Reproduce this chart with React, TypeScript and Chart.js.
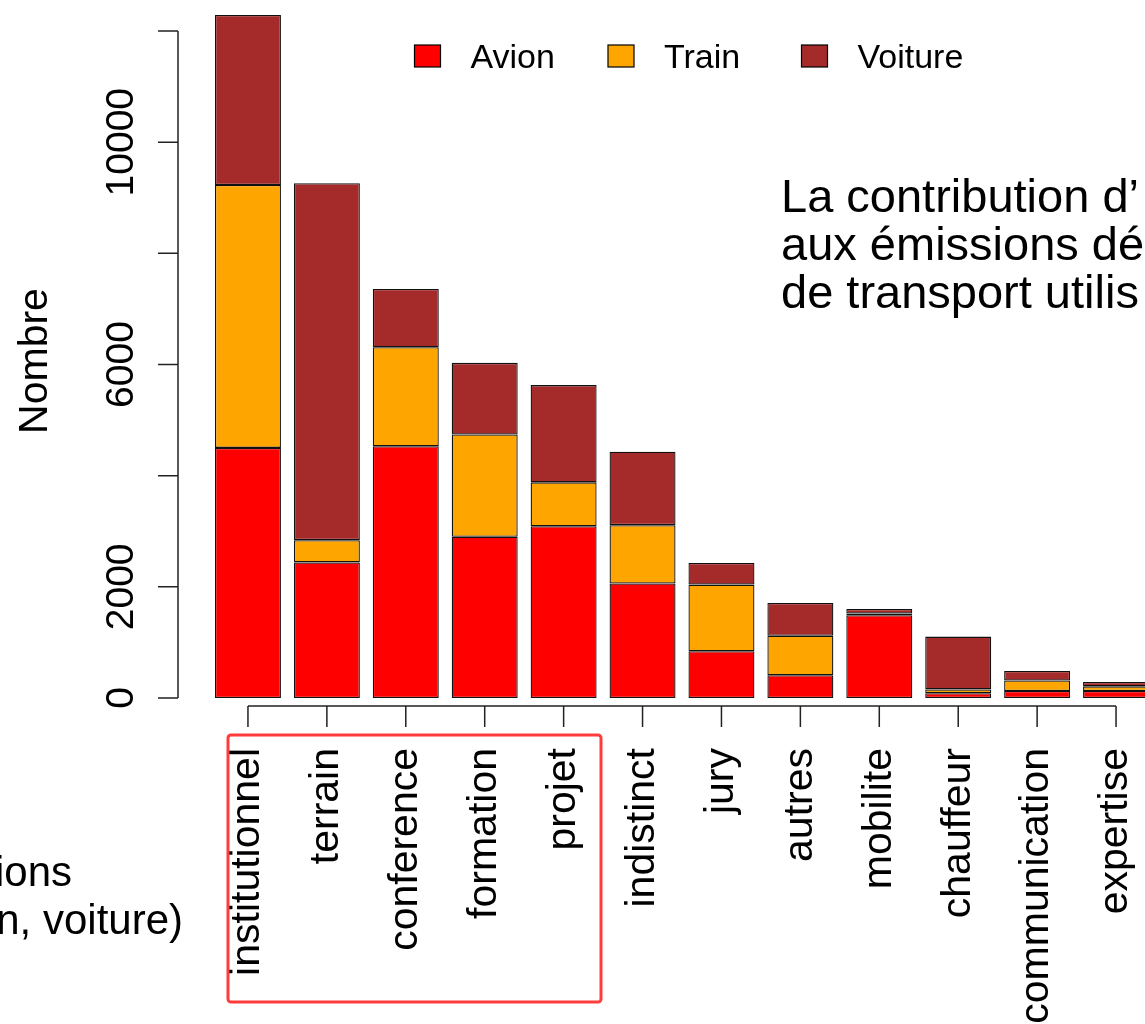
import React, { useEffect, useRef } from 'react';
import { Chart, registerables } from 'chart.js';

Chart.register(...registerables);

// ---------- data ----------
const CATEGORIES = [
  'institutionnel', 'terrain', 'conference', 'formation', 'projet', 'indistinct',
  'jury', 'autres', 'mobilite', 'chauffeur', 'communication', 'expertise',
];
const AVION = [4500, 2440, 4530, 2900, 3090, 2060, 840, 410, 1490, 85, 125, 125];
const TRAIN = [4730, 400, 1780, 1840, 790, 1050, 1200, 710, 30, 70, 190, 85];
const VOITURE = [3060, 6420, 1050, 1290, 1750, 1320, 390, 590, 80, 950, 170, 80];
const SERIES_NAMES = ['Avion', 'Train', 'Voiture'];
const SERIES_COLORS = ['#FF0000', '#FFA500', '#A52A2A'];
const Y_TICKS = [0, 2000, 4000, 6000, 8000, 10000, 12000];
const Y_TICK_LABELS = ['0', '2000', '', '6000', '', '10000', ''];
const Y_TITLE = 'Nombre';
const NOTE_RIGHT = ['La contribution d\u2019', 'aux \u00e9missions d\u00e9', 'de transport utilis'];
const NOTE_LEFT = ['ions', 'n, voiture)'];
const NOTE_LEFT_ENDS = [72, 183];

const FONT = '"Liberation Sans", Arial, Helvetica, sans-serif';

const decorPlugin = {
  id: 'decor',
  afterDraw(chart: any) {
    const ctx: CanvasRenderingContext2D = chart.ctx;
    const ys = chart.scales.y;
    const xs = chart.scales.x;
    ctx.save();

    // ----- y axis (R style) -----
    const AXIS_X = 178;
    ctx.strokeStyle = '#222';
    ctx.lineWidth = 1.5;
    ctx.beginPath();
    ctx.moveTo(AXIS_X, ys.getPixelForValue(Y_TICKS[0]));
    ctx.lineTo(AXIS_X, ys.getPixelForValue(Y_TICKS[Y_TICKS.length - 1]));
    Y_TICKS.forEach((t) => {
      const py = ys.getPixelForValue(t);
      ctx.moveTo(AXIS_X - 20, py);
      ctx.lineTo(AXIS_X, py);
    });
    ctx.stroke();

    ctx.fillStyle = '#000';
    ctx.font = `39px ${FONT}`;
    ctx.textAlign = 'center';
    ctx.textBaseline = 'alphabetic';
    Y_TICKS.forEach((t, i) => {
      const lab = Y_TICK_LABELS[i];
      if (!lab) return;
      ctx.save();
      ctx.translate(133, ys.getPixelForValue(t));
      ctx.rotate(-Math.PI / 2);
      ctx.fillText(lab, 0, 0);
      ctx.restore();
    });

    // y title
    ctx.font = `41px ${FONT}`;
    ctx.save();
    ctx.translate(47, 361);
    ctx.rotate(-Math.PI / 2);
    ctx.fillText(Y_TITLE, 0, 0);
    ctx.restore();

    // ----- x axis (R style) -----
    const XAXIS_Y = chart.chartArea.bottom + 8;
    const firstX = xs.getPixelForTick(0);
    const lastX = xs.getPixelForTick(CATEGORIES.length - 1);
    ctx.beginPath();
    ctx.moveTo(firstX, XAXIS_Y);
    ctx.lineTo(lastX, XAXIS_Y);
    CATEGORIES.forEach((_, i) => {
      const px = xs.getPixelForTick(i);
      ctx.moveTo(px, XAXIS_Y);
      ctx.lineTo(px, XAXIS_Y + 21);
    });
    ctx.stroke();

    // ----- legend -----
    const LEG_X0 = 414.5;
    const LEG_STEP = 193.5;
    const LEG_Y = 45;
    ctx.font = `34px ${FONT}`;
    ctx.textAlign = 'left';
    ctx.textBaseline = 'alphabetic';
    SERIES_NAMES.forEach((name, i) => {
      const bx = LEG_X0 + i * LEG_STEP;
      ctx.fillStyle = SERIES_COLORS[i];
      ctx.fillRect(bx, LEG_Y, 26, 22);
      ctx.strokeStyle = '#000';
      ctx.lineWidth = 1.2;
      ctx.strokeRect(bx, LEG_Y, 26, 22);
      ctx.fillStyle = '#000';
      ctx.fillText(name, bx + 56, 68);
    });

    // ----- annotation texts -----
    ctx.font = `47px ${FONT}`;
    ctx.textAlign = 'left';
    NOTE_RIGHT.forEach((line, i) => {
      ctx.fillText(line, 781, 212 + i * 48);
    });
    ctx.font = `42px ${FONT}`;
    ctx.textAlign = 'right';
    NOTE_LEFT.forEach((line, i) => {
      ctx.fillText(line, NOTE_LEFT_ENDS[i], 886 + i * 48);
    });

    // ----- red highlight box -----
    ctx.strokeStyle = '#FF3B3B';
    ctx.lineWidth = 3;
    ctx.beginPath();
    if ((ctx as any).roundRect) {
      (ctx as any).roundRect(228, 735, 373, 267, 3);
    } else {
      ctx.rect(228, 735, 373, 267);
    }
    ctx.stroke();

    ctx.restore();
  },
};

export default function App() {
  const canvasRef = useRef<HTMLCanvasElement | null>(null);

  useEffect(() => {
    if (!canvasRef.current) return;
    const datasets = [AVION, TRAIN, VOITURE].map((vals, i) => ({
      label: SERIES_NAMES[i],
      data: vals,
      backgroundColor: SERIES_COLORS[i],
      borderColor: '#111',
      borderWidth: 1.3,
      borderSkipped: false as const,
      barPercentage: 0.836,
      categoryPercentage: 1,
    }));
    const chart = new Chart(canvasRef.current, {
      type: 'bar',
      data: { labels: CATEGORIES, datasets },
      options: {
        responsive: false,
        maintainAspectRatio: false,
        animation: false,
        layout: { padding: { top: 8.8, left: 208.5, right: 4.5, bottom: 0 } },
        plugins: { legend: { display: false }, tooltip: { enabled: false } },
        scales: {
          x: {
            stacked: true,
            grid: { display: false, drawTicks: false, tickLength: 0 },
            border: { display: false },
            ticks: {
              autoSkip: false,
              minRotation: 90,
              maxRotation: 90,
              padding: 50,
              color: '#000',
              font: { family: FONT, size: 41 },
            },
            afterFit: (s: any) => {
              s.height = 326;
              s.paddingLeft = 0;
              s.paddingRight = 0;
            },
          },
          y: {
            display: false,
            stacked: true,
            min: 0,
            max: 12400,
          },
        },
      },
      plugins: [decorPlugin],
    });
    return () => chart.destroy();
  }, []);

  return (
    <div
      style={{
        position: 'fixed',
        left: 0,
        top: 0,
        width: 1145,
        height: 1024,
        overflow: 'hidden',
        background: '#fff',
      }}
    >
      <canvas ref={canvasRef} width={1160} height={1024} style={{ display: 'block' }} />
    </div>
  );
}
